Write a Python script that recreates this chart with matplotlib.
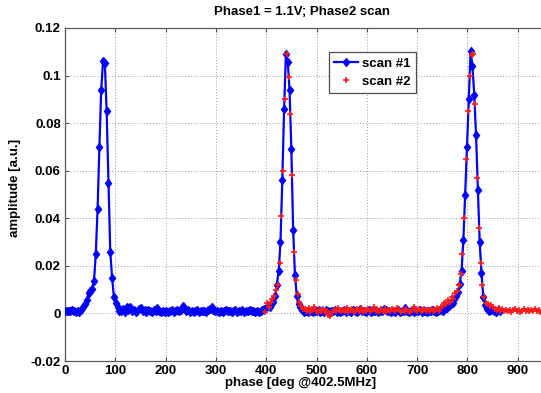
import numpy as np
import matplotlib
matplotlib.use("Agg")
import matplotlib.pyplot as plt

# ---------------- data (amplitudes in units of 1e-4 a.u.) ----------------
scan1_start, scan1_step = 0.0, 3.6
scan1_vals = [
    10, 12, 9, 11, 13, 10, 8, 11, 4, 15,
    28, 40, 57, 85, 96, 104, 135, 250, 440, 700,
    940, 1060, 1052, 850, 550, 260, 150, 70, 45, 25,
    10,
    12, 20, 8, 28, 14, 25, 9, 15, 6, 12,
    18, 22, 10, 14, 8, 16, 11, 7, 13, 9,
    24, 10, 6, 12, 8, 11, 5, 9, 14, 7,
    10, 13, 9, 16, 32, 18, 11, 14, 8, 12,
    6, 10, 13, 7, 11, 9, 12, 8, 14, 20,
    26, 15, 10, 12, 8, 11, 6, 10, 13, 9,
    12, 7, 10, 14, 8, 11, 9, 13, 7, 10,
    12, 16, 9, 11, 7, 12, 5, 9,
    14, 18, 22, 30, 26, 38, 48, 75, 120, 180,
    300, 560, 860, 1092, 1058, 940, 690, 350, 160, 75,
    40, 25, 14, 8, 11, 6, 9,
    10, 7, 12, 9, 14, 6, 11, 8, 13, 10,
    5, 12, 9, 15, 8, 11, 7, 10, 13, 6,
    12, 9, 8, 14, 10, 6, 11, 18, 9, 12,
    7, 10, 13, 8, 11, 9, 15, 7, 12, 10,
    20, 14, 9, 11, 6, 12, 8, 10, 13, 7,
    11, 9, 22, 12, 8, 10, 14, 7, 11, 9,
    13, 8, 10, 12, 6, 11, 9, 14, 10, 8,
    12, 15,
    14, 12, 18, 22, 30, 40, 45, 60, 72, 92,
    125, 180, 310, 500, 700, 900, 1105, 1040, 920, 750,
    520, 300, 170, 70, 35, 18, 10, 14, 20, 12,
    8, 15, 10,
]

scan2_start, scan2_step = 397.8, 3.6
scan2_vals = [
    8, 42, 28, 50, 62, 72, 98, 120, 210, 410,
    600, 900, 1090, 996, 840, 580, 260, 140, 80, 50,
    30, 18,
    18, 10, 22, 8, 14, 25, 12, 6, 16, 9,
    20, 4, 12, -5, -12, 7, 15, 10, 22, 13,
    9, 16, 11, 24, 6, 14, 19, 8, 12, 17,
    10, 21, 7, 15, 12, 18, 9, 13, 26, 11,
    14, 8, 17, 12, 20, 6, 15, 10, 18, 13,
    9, 22, 14, 7, 16, 11, 19, 12, 8, 15,
    28, 13, 10, 17, 9, 14, 20, 11, 16, 12,
    18, 10, 15, 22, 12, 25,
    30, 45, 38, 55, 48, 70, 62, 85, 95, 120,
    165, 250, 400, 650, 850, 1000, 1085, 1090, 880, 570,
    360, 210, 120, 70, 45, 38, 30, 35,
    28, 20, 15, 22, 12, 18, 9, 14, 11, 16,
    8, 13, 19, 10, 15, 7, 12, 17, 11, 14,
    9, 16, 12, 20, 10, 13, 8, 15, 11, 18,
    12, 9, 14, 10,
]

series_labels = ["scan #1", "scan #2"]
x_ticks = [0, 100, 200, 300, 400, 500, 600, 700, 800, 900]
y_ticks = [-0.02, 0, 0.02, 0.04, 0.06, 0.08, 0.1, 0.12]
y_tick_labels = ["-0.02", "0", "0.02", "0.04", "0.06", "0.08", "0.1", "0.12"]
title_text = "Phase1 = 1.1V; Phase2 scan"
xlabel_text = "phase [deg @402.5MHz]"
ylabel_text = "amplitude [a.u.]"

x1 = scan1_start + scan1_step * np.arange(len(scan1_vals))
y1 = np.array(scan1_vals) * 1e-4
x2 = scan2_start + scan2_step * np.arange(len(scan2_vals))
y2 = np.array(scan2_vals) * 1e-4

# ---------------- figure ----------------
plt.rcParams['font.family'] = ['Liberation Sans', 'DejaVu Sans']
W, H = 541, 393
FS = 9.5
fig = plt.figure(figsize=(W / 100, H / 100), dpi=100)
ax = fig.add_axes([65 / W, (H - 361) / H, 503 / W, 333 / H])

ax.plot(x1, y1, '-', color=(0, 0, 1), lw=1.6, marker='d', ms=4.5,
        mfc=(0, 0, 1), mec=(0, 0, 1), label=series_labels[0], zorder=3)
ax.plot(x2, y2, ls='none', marker='+', ms=5, mew=1.2, color=(1, 0.1, 0.1),
        label=series_labels[1], zorder=4)

ax.set_xlim(0, 1000)
ax.set_ylim(-0.02, 0.12)
ax.set_xticks(x_ticks)
ax.set_yticks(y_ticks)
ax.set_yticklabels(y_tick_labels)
ax.grid(True, ls=(0, (1, 2)), color='0.6', lw=0.7)
ax.tick_params(direction='in', length=3, top=True, right=True, width=0.8,
               colors='0.3', labelcolor='black', labelsize=FS, pad=3)
for lab in ax.get_xticklabels() + ax.get_yticklabels():
    lab.set_fontweight('bold')
for s in ax.spines.values():
    s.set_color('0.35')
    s.set_linewidth(0.9)

leg = ax.legend(loc='upper left', bbox_to_anchor=((329 - 65) / 503, (361 - 52) / 333),
                borderaxespad=0, fancybox=False, edgecolor='0.3', framealpha=1,
                prop={'weight': 'bold', 'size': FS}, handlelength=1.8,
                handletextpad=0.3, borderpad=0.4, labelspacing=0.45)
leg.get_frame().set_linewidth(0.9)

fig.text(302 / W, 1 - 12 / H, title_text, ha='center', va='center',
         fontsize=FS, fontweight='bold')
fig.text(301 / W, 1 - 383 / H, xlabel_text, ha='center', va='center',
         fontsize=FS, fontweight='bold')
fig.text(15 / W, 1 - 188 / H, ylabel_text, ha='center', va='center',
         rotation=90, fontsize=FS, fontweight='bold')

fig.savefig('out.png', dpi=100)
